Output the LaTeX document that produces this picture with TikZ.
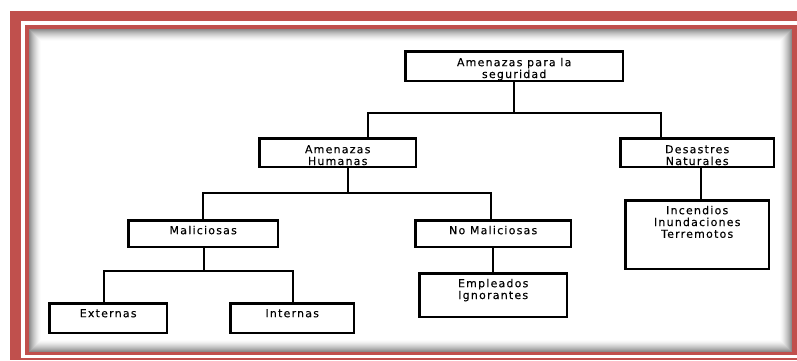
\documentclass[tikz,border=0pt]{standalone}
\usepackage{fontspec}
\newfontfamily\diagfont[LetterSpace=11,FakeBold=0.15]{DejaVu Sans}
\definecolor{framered}{RGB}{192,80,77}

% box content: width, height, first baseline offset, text
\newcommand\cellbody[4]{\parbox[c][#2pt][t]{#1pt}{\centering\rule{0pt}{#3pt}#4}}

\tikzset{
  cellbox/.style={draw=black, line width=2.4pt, fill=white, inner sep=0pt,
    anchor=north west, font=\diagfont\fontsize{11}{11.8}\selectfont},
  link/.style={draw=black, line width=2.6pt, line join=miter},
}

\begin{document}
\begin{tikzpicture}[x=1pt,y=-1pt]
\useasboundingbox (0,0) rectangle (797,360);
\fill[white] (0,0) rectangle (797,360);

% double red frame
\fill[framered] (10,11) rectangle (797,360);
\fill[white] (21,21) rectangle (797,357.5);
\fill[framered] (24.5,25) rectangle (797,355);
\fill[white] (29,29) rectangle (792,352);

% inner shadow of the panel
\foreach \i in {0,...,11} {
  \pgfmathsetmacro\shadeamt{45*(1-\i/12)^1.5}
  \draw[black!\shadeamt, line width=1pt] (29.5+\i,29.5+\i) rectangle (791.5-\i,351.5-\i);
}

% boxes
\node[cellbox] (top)   at (404.2,50.2)  {\cellbody{217.6}{29.6}{14.8}{Amenazas para la\\seguridad}};
\node[cellbox] (hum)   at (258.2,137.2) {\cellbody{156.6}{28.6}{14.8}{Amenazas\\Humanas}};
\node[cellbox] (nat)   at (619.2,137.2) {\cellbody{153.6}{28.6}{14.8}{Desastres\\Naturales}};
\node[cellbox] (mal)   at (127.2,219.2) {\cellbody{149.6}{26.6}{13.8}{Maliciosas}};
\node[cellbox] (nomal) at (414.2,219.2) {\cellbody{155.6}{26.6}{13.8}{No Maliciosas}};
\node[cellbox] (ext)   at (48.2,302.2)  {\cellbody{117.6}{29.6}{13.8}{Externas}};
\node[cellbox] (int)   at (229.2,302.2) {\cellbody{123.6}{29.6}{13.8}{Internas}};
\node[cellbox] (emp)   at (418.2,272.2) {\cellbody{147.6}{43.6}{13.8}{Empleados\\Ignorantes}};
\node[cellbox] (inc)   at (624.2,199.2) {\cellbody{143.6}{68.6}{13.8}{Incendios\\Inundaciones\\Terremotos}};

% junction points of the tree
\coordinate (a1) at (514,113);
\coordinate (a2) at (368,113);
\coordinate (a3) at (661,113);
\coordinate (b1) at (348,193);
\coordinate (b2) at (203,193);
\coordinate (b3) at (491,193);
\coordinate (c1) at (204,271);
\coordinate (c2) at (104,271);
\coordinate (c3) at (293,271);
\coordinate (d1) at (493,0);
\coordinate (e1) at (701,0);

% connectors
\draw[link] (top.south -| a1) -- (a1);
\draw[link] (hum.north -| a2) -- (a2) -- (a3) -- (nat.north -| a3);
\draw[link] (hum.south -| b1) -- (b1);
\draw[link] (mal.north -| b2) -- (b2) -- (b3) -- (nomal.north -| b3);
\draw[link] (mal.south -| c1) -- (c1);
\draw[link] (ext.north -| c2) -- (c2) -- (c3) -- (int.north -| c3);
\draw[link] (nomal.south -| d1) -- (emp.north -| d1);
\draw[link] (nat.south -| e1) -- (inc.north -| e1);
\end{tikzpicture}
\end{document}
